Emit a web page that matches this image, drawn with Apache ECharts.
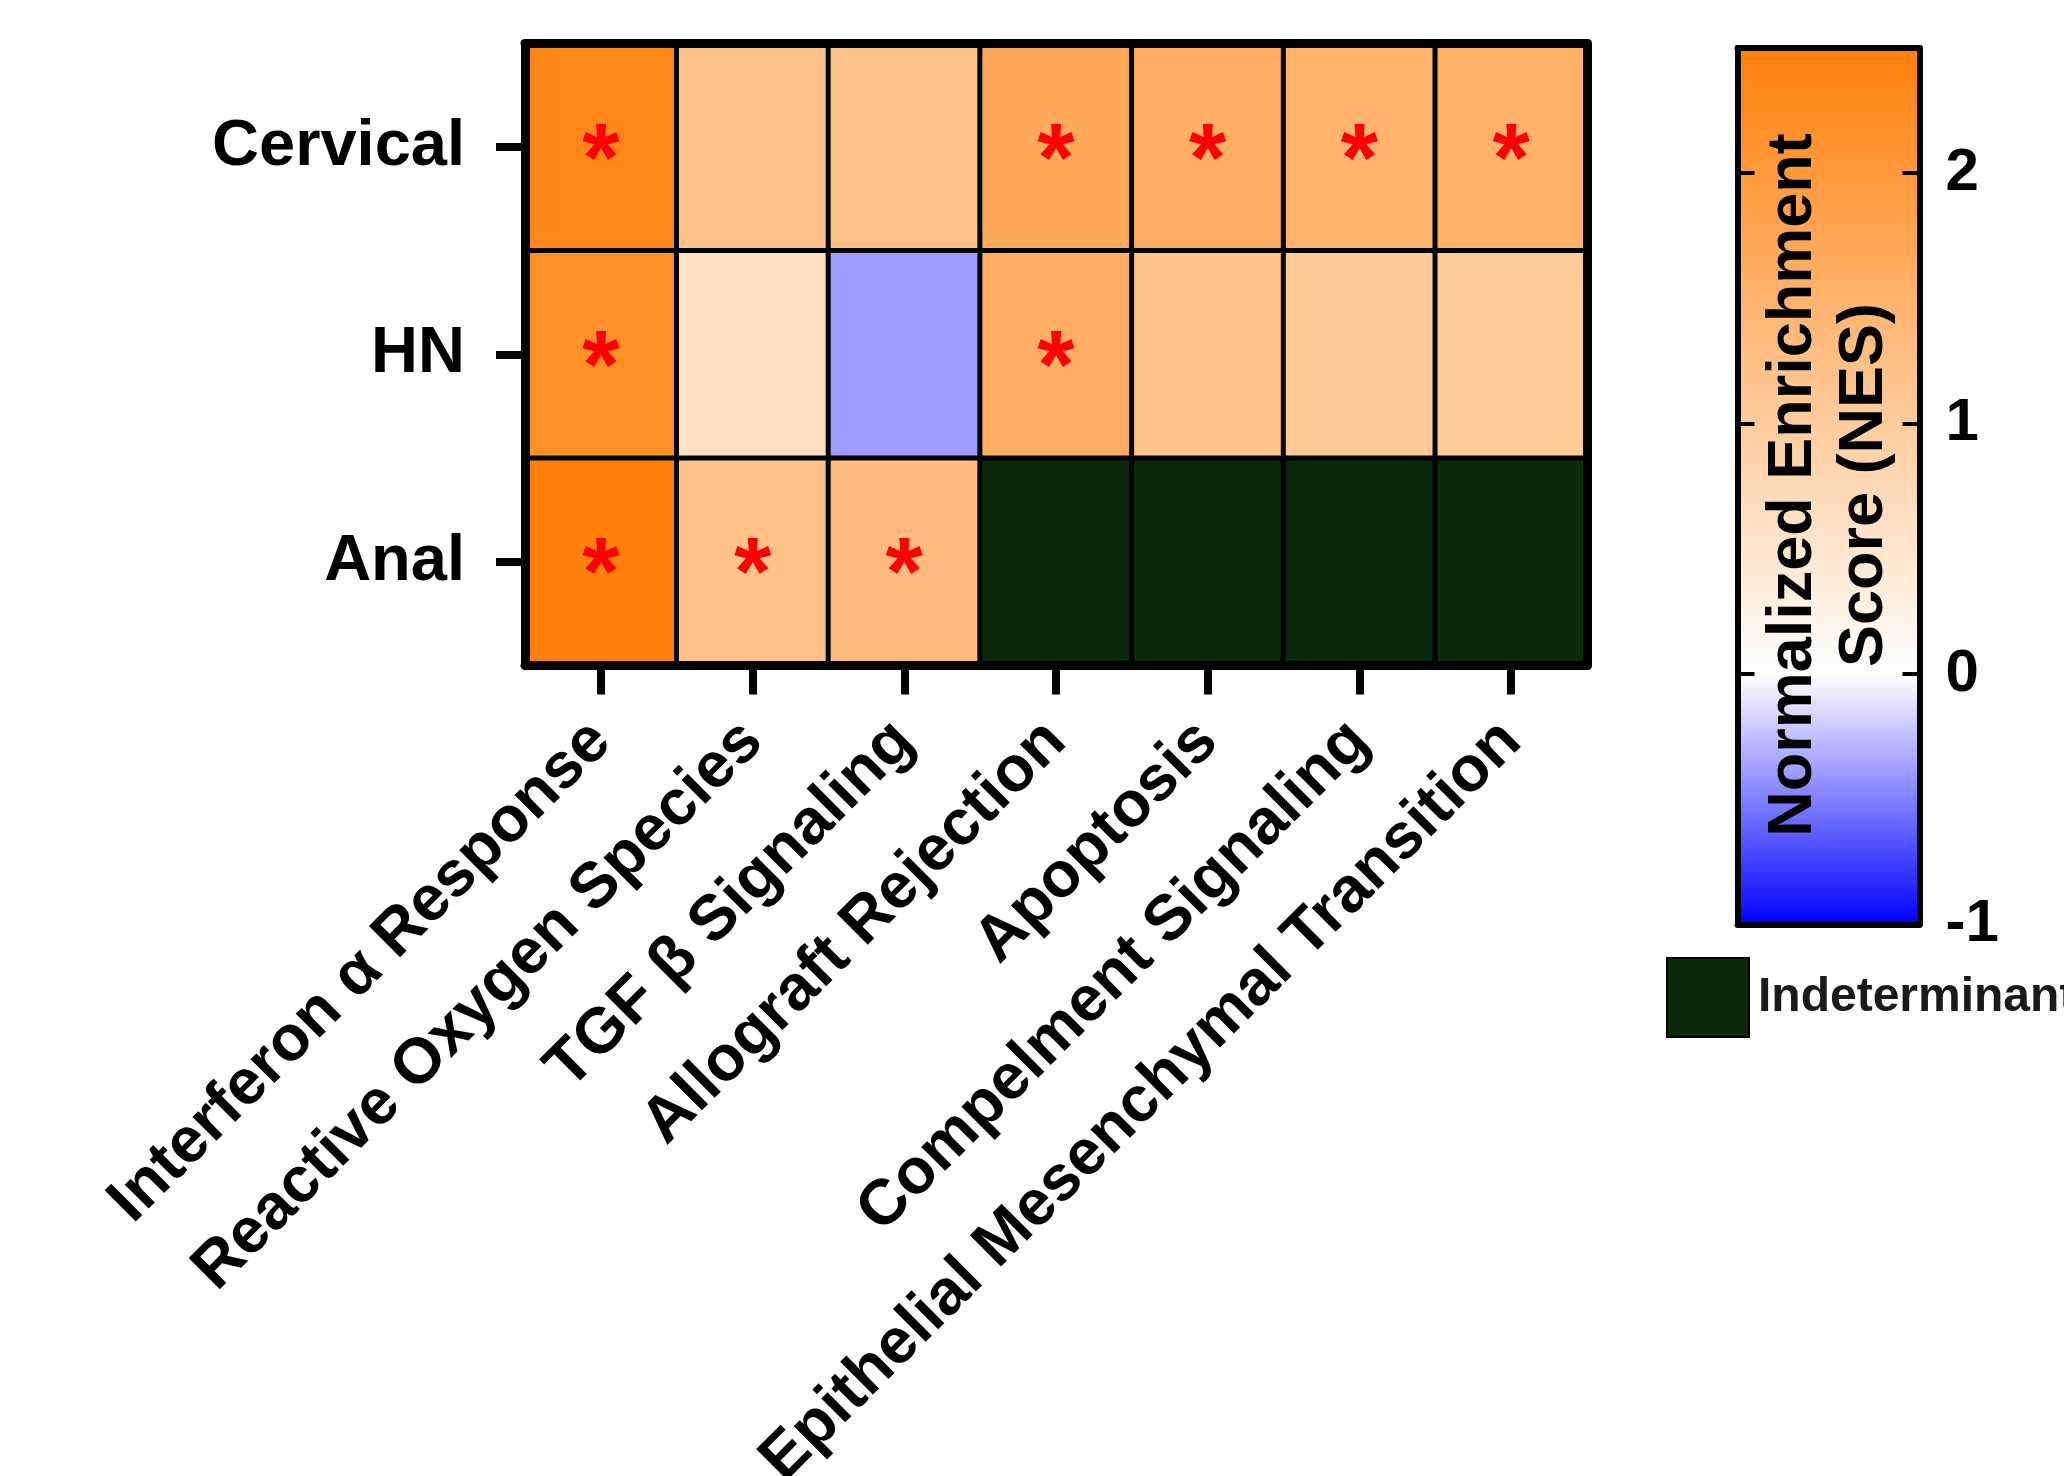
<!DOCTYPE html>
<html>
<head>
<meta charset="utf-8">
<script src="https://cdn.jsdelivr.net/npm/echarts@6/dist/echarts.min.js"></script>
<style>
  html, body { margin: 0; padding: 0; background: #fff; }
  #chart { width: 2064px; height: 1476px; }
</style>
</head>
<body>
<div id="chart"></div>
<script>
// pathways on x, cancer types on y
var pathways = ['Interferon α Response', 'Reactive Oxygen Species', 'TGF β Signaling',
  'Allograft Rejection', 'Apoptosis', 'Compelment Signaling', 'Epithelial Mesenchymal Transition'];
var cancers = ['Cervical', 'HN', 'Anal'];

// NES per cancer type (null = indeterminant)
var nesCervical = [2.36, 1.19, 1.19, 1.67, 1.58, 1.50, 1.54];
var nesHN = [2.19, 0.60, -0.39, 1.60, 1.19, 1.07, 1.02];
var nesAnal = [2.50, 1.21, 1.34, null, null, null, null];

// significance stars
var sigCervical = [1, 0, 0, 1, 1, 1, 1];
var sigHN = [1, 0, 0, 1, 0, 0, 0];
var sigAnal = [1, 1, 1, 0, 0, 0, 0];

// colour scale
var scaleMin = -1, scaleMax = 2.5;
var scaleTicks = [-1, 0, 1, 2];
var scaleColors = ['#0000ff', '#8080ff', '#ffffff', '#ffe6ce', '#ffcc9d', '#ffb36c', '#ff993b', '#ff800a'];

var rows = [nesCervical, nesHN, nesAnal];
var sigRows = [sigCervical, sigHN, sigAnal];
var cells = [], indet = [];
rows.forEach(function (row, y) {
  row.forEach(function (v, x) {
    if (v === null) indet.push([x, y, 0]);
    else cells.push([x, y, v, sigRows[y][x]]);
  });
});

var stops = scaleColors.map(function (c, i) {
  return { offset: i / (scaleColors.length - 1), color: c };
});

var font = 'Liberation Sans, Arial, sans-serif';
var boxLine = { show: true, onZero: false, lineStyle: { color: '#000', width: 9 } };
var barLine = { show: true, onZero: false, lineStyle: { color: '#000', width: 6 } };
var off = { show: false };

var myChart = echarts.init(document.getElementById('chart'));
var option = {
  animation: false,
  textStyle: { fontFamily: font },
  grid: [
    { left: 525, top: 43.5, width: 1062, height: 622, containLabel: false, outerBoundsMode: 'none' },
    { left: 1737.5, top: 48, width: 182, height: 876.5, containLabel: false, outerBoundsMode: 'none' }
  ],
  visualMap: {
    show: false,
    type: 'continuous',
    seriesIndex: 0,
    dimension: 2,
    min: scaleMin,
    max: scaleMax,
    inRange: { color: scaleColors }
  },
  legend: {
    data: ['Indeterminant'],
    left: 1666,
    top: 957,
    padding: 0,
    icon: 'rect',
    itemWidth: 82,
    itemHeight: 79,
    selectedMode: false,
    itemStyle: { borderColor: '#000', borderWidth: 2 },
    textStyle: { fontFamily: font, fontSize: 48, fontWeight: 'bold', color: '#1a1a1a', padding: [0, 0, 0, 4] }
  },
  xAxis: [
    {
      gridIndex: 0, type: 'category', data: pathways, position: 'bottom', z: 5,
      axisLine: boxLine,
      axisTick: { show: true, alignWithLabel: true, length: 29, lineStyle: { color: '#000', width: 8 } },
      axisLabel: { interval: 0, rotate: 45, margin: 66, fontSize: 64, fontWeight: 'bold', color: '#000' },
      splitLine: off
    },
    {
      gridIndex: 0, type: 'category', data: pathways, position: 'top', z: 5,
      axisLine: boxLine, axisTick: off, axisLabel: off, splitLine: off
    },
    {
      gridIndex: 1, type: 'value', min: 0, max: 1, position: 'bottom', z: 5,
      axisLine: barLine, axisTick: off, axisLabel: off, splitLine: off
    },
    {
      gridIndex: 1, type: 'value', min: 0, max: 1, position: 'top', z: 5,
      axisLine: barLine, axisTick: off, axisLabel: off, splitLine: off
    }
  ],
  yAxis: [
    {
      gridIndex: 0, type: 'category', data: cancers, inverse: true, position: 'left', z: 5,
      axisLine: boxLine,
      axisTick: { show: true, alignWithLabel: true, length: 29, lineStyle: { color: '#000', width: 8 } },
      axisLabel: { margin: 60, fontSize: 65, fontWeight: 'bold', color: '#000', padding: [8, 0, 0, 0] },
      splitLine: off
    },
    {
      gridIndex: 0, type: 'category', data: cancers, inverse: true, position: 'right', z: 5,
      axisLine: boxLine, axisTick: off, axisLabel: off, splitLine: off
    },
    {
      gridIndex: 1, type: 'value', min: scaleMin, max: scaleMax, interval: 1, position: 'left', z: 5,
      axisLine: barLine,
      axisTick: { show: true, inside: true, length: 17, lineStyle: { color: '#000', width: 4 } },
      axisLabel: off, splitLine: off
    },
    {
      gridIndex: 1, type: 'value', min: scaleMin, max: scaleMax, interval: 1, position: 'right', z: 5,
      axisLine: barLine,
      axisTick: { show: true, inside: true, length: 17, lineStyle: { color: '#000', width: 4 } },
      axisLabel: {
        margin: 26, fontSize: 60, fontWeight: 'bold', color: '#000', showMaxLabel: false,
        formatter: function (v) { return scaleTicks.indexOf(v) >= 0 ? String(v) : ''; }
      },
      splitLine: off
    }
  ],
  graphic: [{
    type: 'text',
    x: 1829,
    y: 485,
    rotation: Math.PI / 2,
    z: 100,
    style: {
      text: 'Normalized Enrichment\nScore (NES)',
      align: 'center',
      verticalAlign: 'middle',
      fontFamily: font,
      fontSize: 63,
      lineHeight: 71,
      fontWeight: 'bold',
      fill: '#000'
    }
  }],
  series: [
    {
      name: 'NES',
      type: 'heatmap',
      xAxisIndex: 0,
      yAxisIndex: 0,
      data: cells,
      itemStyle: { borderColor: '#000', borderWidth: 5 },
      label: {
        show: true,
        formatter: function (p) { return p.data[3] ? '*' : ''; },
        color: '#ff0000',
        fontSize: 96,
        fontWeight: 'bold',
        offset: [0, 16]
      },
      emphasis: { disabled: true }
    },
    {
      name: 'Indeterminant',
      type: 'heatmap',
      xAxisIndex: 0,
      yAxisIndex: 0,
      data: indet,
      itemStyle: { color: '#0c2a0b', borderColor: '#000', borderWidth: 5 },
      emphasis: { disabled: true }
    },
    {
      name: 'scale',
      type: 'custom',
      xAxisIndex: 2,
      yAxisIndex: 2,
      silent: true,
      data: [[0, scaleMin, 1, scaleMax]],
      renderItem: function (params, api) {
        var p0 = api.coord([api.value(0), api.value(3)]);
        var p1 = api.coord([api.value(2), api.value(1)]);
        return {
          type: 'rect',
          shape: { x: p0[0], y: p0[1], width: p1[0] - p0[0], height: p1[1] - p0[1] },
          style: { fill: new echarts.graphic.LinearGradient(0, 1, 0, 0, stops) }
        };
      }
    }
  ]
};
myChart.setOption(option, true);
</script>
</body>
</html>
